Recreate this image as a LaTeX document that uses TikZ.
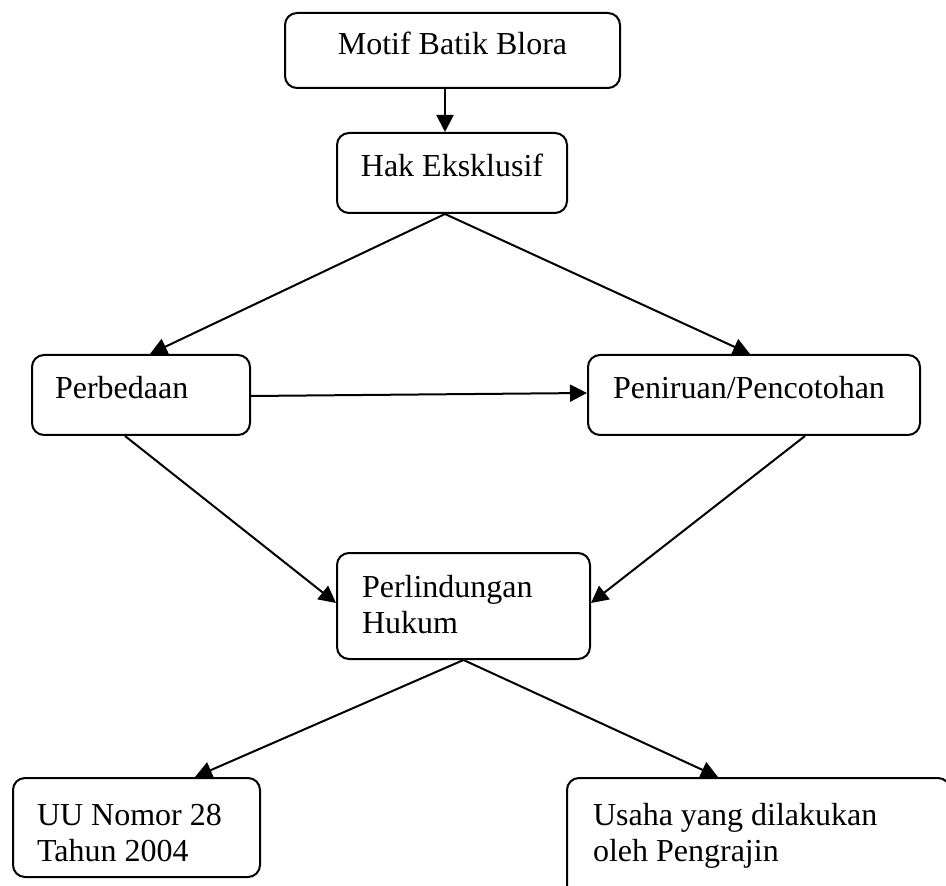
\documentclass[tikz,border=0pt]{standalone}
\usepackage{fontspec}
\setmainfont{Liberation Serif}
\usetikzlibrary{arrows.meta}

\begin{document}
\begin{tikzpicture}[x=0.5pt,y=-0.5pt,
		kotak/.style={draw,line width=1pt,rounded corners=6pt,align=flush left,
			inner ysep=0pt,text height=11pt,text depth=7pt,
			font=\fontsize{16}{18.4}\selectfont,
			execute at begin node={\spaceskip=0.25em plus 0.1em\relax}},
		panah/.style={line width=1pt,-{Triangle[length=8.5pt,width=8.5pt]}}]
		
		% Cadre de l'image
		\path[use as bounding box,clip] (0,0) rectangle (946,886);
		
		% Boites
		\node[kotak,align=flush center,inner xsep=10pt,text width=147.5pt,minimum height=37.5pt,text depth=6.5pt]
		(motif) at (452.5,50.5) {Motif Batik Blora};
		\node[kotak,align=flush center,inner xsep=5pt,text width=105pt,minimum height=40pt]
		(hak) at (452,173) {Hak Eksklusif};
		\node[kotak,inner xsep=11.5pt,text width=86pt,minimum height=40pt]
		(beda) at (141,395) {Perbedaan};
		\node[kotak,inner xsep=12.5pt,text width=141pt,minimum height=40pt]
		(tiru) at (754,395) {Peniruan/Pencotohan};
		\node[kotak,inner xsep=12.5pt,text width=101.5pt,minimum height=53pt,text depth=20pt]
		(lindung) at (463.5,606) {Perlindungan\\Hukum};
		\node[kotak,inner xsep=12pt,text width=99.5pt,minimum height=49.5pt,text depth=13.5pt]
		(uu) at (136.5,827.5) {UU Nomor 28\\Tahun 2004};
		\node[kotak,inner xsep=13pt,text width=165.5pt,minimum height=66pt,text depth=30pt]
		(usaha) at (758.5,844) {Usaha yang dilakukan\\oleh Pengrajin};
		
		% Fleches
		\draw[panah] ([xshift=-3.75pt]motif.south) -- ([xshift=-3.5pt]hak.north);
		\draw[panah] ([xshift=-3.5pt]hak.south) -- ([xshift=4.5pt]beda.north);
		\draw[panah] ([xshift=-3.5pt]hak.south) -- ([xshift=-2pt]tiru.north);
		\draw[panah] ([yshift=-0.5pt]beda.east) -- ([yshift=1pt]tiru.west);
		\draw[panah] ([xshift=-8pt]beda.south) -- ([yshift=1.5pt]lindung.west);
		\draw[panah] ([xshift=25.5pt]tiru.south) -- ([yshift=1.5pt]lindung.east);
		\draw[panah] (lindung.south) -- ([xshift=29.25pt]uu.north);
		\draw[panah] (lindung.south) -- ([xshift=-20.25pt]usaha.north);
		
	\end{tikzpicture}
\end{document}
